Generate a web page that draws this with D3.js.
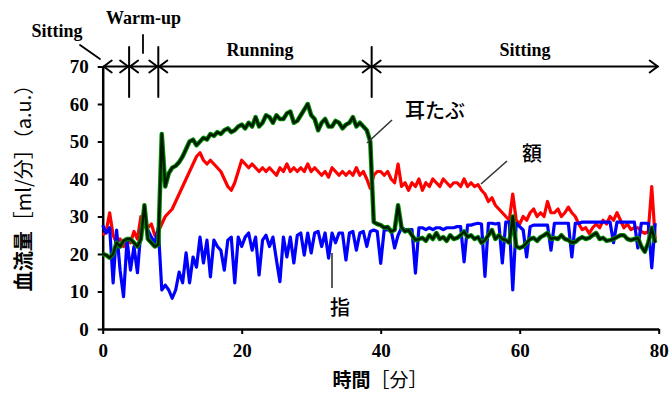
<!DOCTYPE html>
<html><head><meta charset="utf-8">
<script src="https://cdn.jsdelivr.net/npm/d3@7"></script>
<style>body{margin:0;background:#fff}svg{display:block}</style>
</head><body><svg id="c" width="669" height="394"></svg>
<script>
// time grid (minutes), sampled every 0.5 min
const minutes = d3.range(0, 80, 0.5);
// 額 (forehead)
const forehead = [25,26,31,25,23,24,22,24,23,26,24,30,29,27,28,25,26,28,30,31,
 32,34,36,38,40,42,44,46,47,45,44,45,44,43,42,40,38,37,39,42,
 45,44,43,44,43,42,43,42,43,42,41,43,42,44,42,43,42,43,42,44,
 42,43,42,41,42,40.5,43,42,41,42,41,42,41,43,41,42,40,37.5,41,42,
 42,41,42,40,39,44,38,39,37,39,38,40,37,39,38,40,39,38,40,39,
 38,39,39,38,40,38,39,38,38.5,37,36,34,35,33,32,31,30,29,36,29,
 28,30,29,31,32,30,31,30,34,31,31,32,30,31,32.5,31,30,28,26.5,27,
 25.5,27,28,27,29,28,30,29,31,29,27,28,26.5,27,27,26,25.5,26,38,24];
// 耳たぶ (earlobe)
const earlobe = [20,19.7,19,20,23,22,23.5,24,24,23,22,24,33,24,23,22,22.5,52,38,41.5,
 43,43.5,44.5,46,48,50,50.5,49,50,51,50.5,52,51.5,52.5,52,53,53.5,52.5,53,54,
 54.5,53.5,55,54,56.5,54,55,57,56.5,55,57,56,56,57.5,58,55,55.5,57,58.5,60,
 57,56,53,55,56,54,54,55.5,55,53.5,54.5,55,56.5,54,55,54,53,50,28.5,28,
 27.7,27,27.2,26,26.4,33,27,26,26.4,25,23.7,24,24.3,23.5,25,24,25.6,24,24.5,23.5,
 25,24,24.3,25,26,24.5,25,24,24.5,23,23.7,25,26.4,24,25,24,23.7,23,30,22,
 21.6,22,23,24,24.3,23.5,24.5,25,25.6,24,24.3,24,25,24,23.7,23,23.2,24,24.5,24,
 24.3,25,25.6,24,24.3,23.5,23.7,24,24.5,25,25,24,23.7,24,24.3,22,20.6,23,27,23];
// 指 (finger)
const finger = [27.7,25.6,27,12.3,26.4,15.7,8.6,23.7,15.7,22,15,26.4,28.2,26.4,24.5,23,27,10.4,11.7,10.4,
 8.2,10.4,15.2,12.3,20.3,12.3,19.2,16.5,24.5,17.6,23.7,13.9,23.7,22,21,15.7,23.7,24.5,12.3,24.5,
 22,24.5,25.6,21,24.5,14.4,23.7,25,22,24.5,18.4,12.6,24.5,19.2,24.5,17.6,25,25.6,19.7,25.6,
 20.3,25.6,26,22,25.6,18.9,25.6,23,25.6,25.6,18.4,25.6,26,21,25.6,26,22,26,26.4,26,
 17.5,26.4,26.4,26.4,21.6,25,27,26.5,26.5,26.5,14.9,27,27,26.5,27,26.5,27,27,26.5,27,
 27,27,27.3,27.3,17.9,27.7,27.7,28,28.2,28,14,28.2,28.2,28,28.2,17.6,28.5,28.5,10.4,28.2,
 27.3,26.4,19.2,27.3,27.7,27.7,27.7,27.7,27.7,21,28.2,28.2,28.2,28.2,28.2,19.2,28.2,28.2,28.5,28.5,
 28.5,28.5,28.5,28.5,28.5,28.5,28.5,23,28.5,28.5,28.5,28.5,28.5,28.5,21.6,28.2,28.2,28.2,16.3,28.2];

const xTicks = [0, 20, 40, 60, 80];
const yTicks = [0, 10, 20, 30, 40, 50, 60, 70];
const phaseBounds = [0, 3.8, 8, 38.7, 80];
const phaseLabels = ["Sitting", "Warm-up", "Running", "Sitting"];
const seriesLabels = ["額", "耳たぶ", "指"];

const svg = d3.select("#c");
const x = d3.scaleLinear().domain([0, 80]).range([102.7, 658.7]);
const y = d3.scaleLinear().domain([0, 70]).range([329, 66.5]);

const serif = "'Liberation Serif','Times New Roman',serif";
const cjk = "'Noto Sans CJK JP','Noto Sans CJK SC',sans-serif";

// axes
const xAxis = d3.axisBottom(x).tickValues(xTicks).tickSize(5).tickSizeOuter(0).tickPadding(10);
const yAxis = d3.axisLeft(y).tickValues(yTicks).tickSize(5).tickSizeOuter(0).tickPadding(9);
const gx = svg.append("g").attr("transform", `translate(0,${y(0)})`).call(xAxis);
const gy = svg.append("g").attr("transform", `translate(${x(0)},0)`).call(yAxis);
[gx, gy].forEach(g => {
  g.select(".domain").attr("stroke", "#000").attr("stroke-width", 2.5);
  g.selectAll(".tick line").attr("stroke", "#000").attr("stroke-width", 2);
  g.selectAll(".tick text").attr("fill", "#000").style("font-family", serif)
    .style("font-weight", "bold").style("font-size", "19px");
});

// lines
const line = vals => d3.line().x((d, i) => x(minutes[i])).y(d => y(d))(vals);
svg.append("path").attr("d", line(forehead)).attr("fill", "none")
  .attr("stroke", "#ff0000").attr("stroke-width", 3.2).attr("stroke-linejoin", "round");
svg.append("path").attr("d", line(finger)).attr("fill", "none")
  .attr("stroke", "#0000ff").attr("stroke-width", 3.2).attr("stroke-linejoin", "round");
svg.append("path").attr("d", line(earlobe)).attr("fill", "none")
  .attr("stroke", "#008a00").attr("stroke-width", 4.5).attr("stroke-linejoin", "round");
svg.append("path").attr("d", line(earlobe)).attr("fill", "none")
  .attr("stroke", "#001a00").attr("stroke-width", 2.4).attr("stroke-linejoin", "round");

// phase annotation
const ay = y(70);
const ann = svg.append("g").attr("stroke", "#000").attr("fill", "none")
  .attr("stroke-width", 2).attr("stroke-linecap", "round");
phaseBounds.slice(1, -1).forEach(b => {
  ann.append("line").attr("x1", x(b)).attr("x2", x(b)).attr("y1", 47).attr("y2", 97);
});
for (let i = 0; i < phaseBounds.length - 1; i++) {
  const a = x(phaseBounds[i]) + 1, b = x(phaseBounds[i + 1]) - 1;
  ann.append("line").attr("x1", a).attr("x2", b).attr("y1", ay).attr("y2", ay);
  ann.append("path").attr("d", `M${a + 8},${ay - 6}L${a},${ay}L${a + 8},${ay + 6}`);
  ann.append("path").attr("d", `M${b - 8},${ay - 6}L${b},${ay}L${b - 8},${ay + 6}`);
}
// leader lines
ann.append("line").attr("x1", 80).attr("y1", 45).attr("x2", 100).attr("y2", 59).attr("stroke-width", 1.8);
ann.append("line").attr("x1", 143).attr("y1", 35).attr("x2", 143).attr("y2", 53).attr("stroke-width", 1.8);

const phaseText = [
  {x: 57, y: 37}, {x: 143.5, y: 24}, {x: 260, y: 56}, {x: 525, y: 56}
];
phaseLabels.forEach((t, i) => {
  svg.append("text").attr("x", phaseText[i].x).attr("y", phaseText[i].y)
    .attr("text-anchor", "middle").style("font-family", serif).style("font-weight", "bold")
    .style("font-size", "18px").text(t);
});

// series labels with leaders
const lead = svg.append("g").attr("stroke", "#333").attr("stroke-width", 1.6);
lead.append("line").attr("x1", 481).attr("y1", 184).attr("x2", 507).attr("y2", 161);
lead.append("line").attr("x1", 367).attr("y1", 143).attr("x2", 392).attr("y2", 120);
lead.append("line").attr("x1", 332).attr("y1", 253).attr("x2", 332).attr("y2", 288);
const labelPos = [{x: 532, y: 161}, {x: 435, y: 118}, {x: 340, y: 315}];
seriesLabels.forEach((t, i) => {
  svg.append("text").attr("x", labelPos[i].x).attr("y", labelPos[i].y)
    .attr("text-anchor", "middle").style("font-family", cjk).style("font-weight", "500")
    .style("font-size", "20px").text(t);
});

// axis titles
const yt = svg.append("text").attr("transform", "translate(31,183) rotate(-90)")
  .attr("text-anchor", "middle").style("font-family", cjk).style("font-size", "20px");
yt.append("tspan").style("font-weight", "bold").text("血流量");
yt.append("tspan").text("［ml/分］（a.u.）");
const xt = svg.append("text").attr("x", 380).attr("y", 387)
  .attr("text-anchor", "middle").style("font-family", cjk).style("font-size", "19px");
xt.append("tspan").style("font-weight", "bold").text("時間");
xt.append("tspan").text("［分］");
</script></body></html>
